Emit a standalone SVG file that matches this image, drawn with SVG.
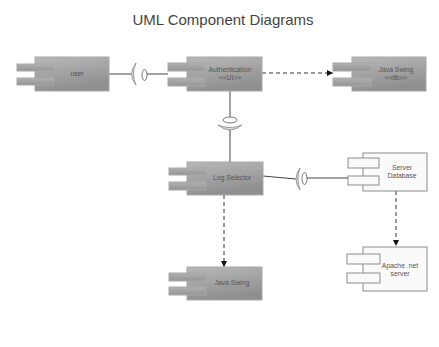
<svg xmlns="http://www.w3.org/2000/svg" width="439" height="347" viewBox="0 0 439 347">
<style>
.title{font-family:"Liberation Sans",Arial,sans-serif;font-size:15px;fill:#444;text-anchor:middle}
.lbl{font-family:"Liberation Sans",Arial,sans-serif;font-size:6.8px;fill:#555;text-anchor:middle}
.body{fill:url(#g);stroke:#a8a8a8;stroke-width:1}
.tab{fill:url(#gt);stroke:#a8a8a8;stroke-width:1}
.wbody{fill:#fafafa;stroke:#8c8c8c;stroke-width:1}
.wtab{fill:#fafafa;stroke:#8c8c8c;stroke-width:1}
.line{stroke:#444;stroke-width:1;fill:none}
.dash{stroke:#333;stroke-width:1;fill:none;stroke-dasharray:4,3}
.ball{fill:#fff;stroke:#777;stroke-width:1}
.sock{fill:#ddd;stroke:#888;stroke-width:0.8}
</style>
<defs>
<linearGradient id="g" x1="0" y1="0" x2="0.3" y2="1">
<stop offset="0" stop-color="#b8b8b8"/>
<stop offset="1" stop-color="#8f8f8f"/>
</linearGradient>
<linearGradient id="gt" x1="0" y1="0" x2="0" y2="1">
<stop offset="0" stop-color="#b0b0b0"/>
<stop offset="1" stop-color="#959595"/>
</linearGradient>
<marker id="arr" viewBox="0 0 6 6" refX="6" refY="3" markerWidth="6" markerHeight="6" orient="auto" markerUnits="userSpaceOnUse">
<path d="M0,0 L6,3 L0,6 Z" fill="#111"/>
</marker>
</defs>
<text class="title" x="223" y="25">UML Component Diagrams</text>
<g id="connectors">
<path class="line" d="M109,74 H131"/>
<path class="sock" d="M136,63 Q127,74 136,85 Q131,74 136,63 Z"/>
<ellipse class="ball" cx="144.5" cy="75" rx="2.5" ry="5.5"/>
<path class="line" d="M147,74 H168"/>
<path class="dash" d="M262,73 H333" marker-end="url(#arr)"/>
<path class="line" d="M230,91 V117"/>
<ellipse class="ball" cx="230" cy="120" rx="7" ry="3"/>
<path class="sock" d="M218,125 Q230,135 242,125 Q230,130 218,125 Z"/>
<path class="line" d="M230,130 V162"/>
<path class="line" d="M263,176 L296,179"/>
<path class="sock" d="M300,168 Q292,179 300,190 Q296,179 300,168 Z"/>
<ellipse class="ball" cx="304.5" cy="178.5" rx="2.5" ry="6"/>
<path class="line" d="M307,178 H348"/>
<path class="dash" d="M224,195 V267" marker-end="url(#arr)"/>
<path class="dash" d="M396,191 V246" marker-end="url(#arr)"/>
</g>
<g id="user">
<rect class="body" x="35" y="57" width="74" height="34"/>
<rect class="tab" x="17" y="64" width="37" height="7"/>
<rect class="tab" x="17" y="78" width="37" height="7"/>
<text class="lbl" x="77" y="76">user</text>
</g>
<g id="authentication">
<rect class="body" x="187" y="57" width="75" height="34"/>
<rect class="tab" x="168" y="63" width="37" height="8"/>
<rect class="tab" x="168" y="78" width="37" height="8"/>
<text class="lbl" x="230" y="72">Authentication</text>
<text class="lbl" x="230" y="80">&lt;&lt;UI&gt;&gt;</text>
</g>
<g id="java-swing-lib">
<rect class="body" x="352" y="57" width="74" height="34"/>
<rect class="tab" x="333" y="63" width="38" height="8"/>
<rect class="tab" x="333" y="78" width="38" height="8"/>
<text class="lbl" x="396" y="72">Java Swing</text>
<text class="lbl" x="396" y="80">&lt;&lt;lib&gt;&gt;</text>
</g>
<g id="log-selector">
<rect class="body" x="187" y="162" width="76" height="33"/>
<rect class="tab" x="169" y="168" width="37" height="7"/>
<rect class="tab" x="169" y="182" width="37" height="8"/>
<text class="lbl" x="232" y="180">Log Selector</text>
</g>
<g id="server-database">
<rect class="wbody" x="363" y="153" width="64" height="38"/>
<rect class="wtab" x="348" y="158" width="31" height="10"/>
<rect class="wtab" x="348" y="176" width="31" height="9"/>
<text class="lbl" x="402" y="170">Server</text>
<text class="lbl" x="402" y="178">Database</text>
</g>
<g id="apache-net-server">
<rect class="wbody" x="363" y="247" width="64" height="44"/>
<rect class="wtab" x="347" y="254" width="33" height="10"/>
<rect class="wtab" x="347" y="273" width="33" height="10"/>
<text class="lbl" x="400" y="268">Apache .net</text>
<text class="lbl" x="400" y="276">server</text>
</g>
<g id="java-swing">
<rect class="body" x="187" y="267" width="75" height="33"/>
<rect class="tab" x="169" y="273" width="37" height="8"/>
<rect class="tab" x="169" y="287" width="37" height="8"/>
<text class="lbl" x="232" y="285">Java Swing</text>
</g>
</svg>
